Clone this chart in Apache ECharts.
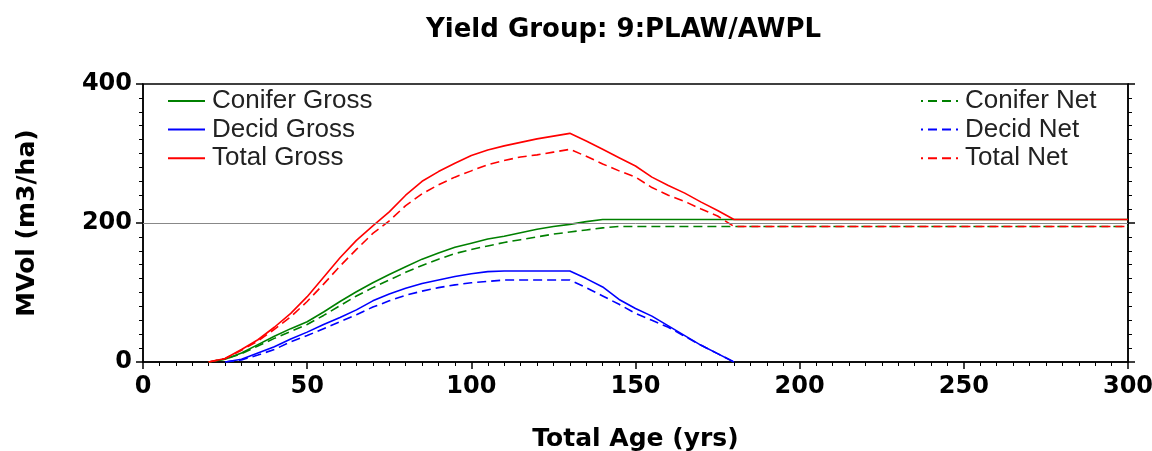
<!DOCTYPE html>
<html>
<head>
<meta charset="utf-8">
<script src="https://cdn.jsdelivr.net/npm/echarts@6/dist/echarts.min.js"></script>
<style>html,body{margin:0;padding:0;background:#fff}#c{width:1152px;height:451px}</style>
</head>
<body>
<div id="c"></div>
<script>
const ages = [20,25,30,35,40,45,50,55,60,65,70,75,80,85,90,95,100,105,110,115,120,125,130,135,140,145,150,155,160,165,170,175,180,300];
const coniferGross = [0,4,13,25,37,48,58,72,87,101,114,126,137,148,157,165,171,177,181,186,191,195,198,202,205,205,205,205,205,205,205,205,205,205];
const coniferNet   = [0,4,12,23,34,44,54,67,81,95,107,118,129,139,148,156,162,167,172,176,180,184,187,190,193,195,195,195,195,195,195,195,195,195];
const decidGross   = [null,0,4,13,22,33,43,54,64,75,88,98,106,113,118,123,127,130,131,131,131,131,131,120,108,90,77,66,52,38,24,12,0,null];
const decidNet     = [null,0,3,10,18,29,38,48,58,68,79,88,96,102,107,111,114,116,118,118,118,118,118,107,95,83,70,60,50,37,24,12,0,null];
const totalGross   = [0,5,18,32,50,70,94,122,150,175,196,216,240,260,274,286,297,305,311,316,321,325,329,318,306,294,282,266,254,243,230,218,205,205];
const totalNet     = [0,5,17,30,47,65,87,112,138,162,185,203,225,242,255,266,275,284,290,295,298,302,306,296,285,275,266,251,240,231,220,210,195,195];

const titleText = 'Yield Group: 9:PLAW/AWPL';
const xName = 'Total Age (yrs)';
const yName = 'MVol (m3/ha)';
const leftLegend = ['Conifer Gross','Decid Gross','Total Gross'];
const rightLegend = ['Conifer Net','Decid Net','Total Net'];

const pairs = vals => ages.map((a,i) => [a, vals[i]]);
const GREEN='#008000', BLUE='#0000ff', RED='#ff0000';
const DASH=[9,5];
function mk(name, vals, color, dashed, extra){
  return Object.assign({
    name, type:'line', data:pairs(vals), showSymbol:false, symbol:'none',
    connectNulls:false, animation:false,
    lineStyle:{color, width:1.6, type: dashed?DASH:'solid'},
    itemStyle:{color}
  }, extra||{});
}
const chart = echarts.init(document.getElementById('c'), null, {renderer:'canvas'});
const tickFont = {fontFamily:'DejaVu Sans', fontWeight:'bold', fontSize:24, color:'#000'};
const nameFont = {fontFamily:'DejaVu Sans', fontWeight:'bold', fontSize:25, color:'#000'};
const legendCommon = {orient:'vertical', top:88, padding:0, itemWidth:37, itemHeight:14, itemGap:2.6,
  itemStyle:{opacity:0},
  textStyle:{fontFamily:'Liberation Sans', fontSize:26, color:'#222', lineHeight:26, padding:[0,0,0,2]}};
chart.setOption({
  animation:false,
  title:{text:titleText, left:421, top:12, textStyle:{fontFamily:'DejaVu Sans', fontWeight:'bold', fontSize:26, color:'#000'}},
  legend:[
    Object.assign({left:167, data:leftLegend}, legendCommon),
    Object.assign({left:920, data:rightLegend}, legendCommon)
  ],
  grid:{left:143, right:24, top:84, bottom:89, containLabel:false, outerBoundsMode:'none',
    show:true, borderColor:'#000', borderWidth:1.5, backgroundColor:'#fff'},
  xAxis:{type:'value', min:0, max:300, interval:50, name:xName, nameLocation:'middle', nameGap:65, nameTextStyle:nameFont,
    axisLine:{show:true, onZero:false, lineStyle:{color:'#000', width:1.5}},
    axisTick:{show:true, inside:false, length:7, lineStyle:{color:'#000', width:1.5}},
    minorTick:{show:true, splitNumber:10, length:4, lineStyle:{color:'#000', width:1}},
    axisLabel:{margin:13, ...tickFont}, splitLine:{show:false}},
  yAxis:[
    {type:'value', min:0, max:400, interval:200, name:yName, nameLocation:'middle', nameGap:103, nameRotate:90, nameTextStyle:nameFont,
     axisLine:{show:true, lineStyle:{color:'#000', width:1.5}},
     axisTick:{show:true, inside:false, length:7, lineStyle:{color:'#000', width:1.5}},
     minorTick:{show:true, splitNumber:10, length:4, lineStyle:{color:'#000', width:1}},
     axisLabel:{margin:11, ...tickFont}, splitLine:{show:false}},
    {type:'value', min:0, max:400, interval:200, position:'right',
     axisLine:{show:true, lineStyle:{color:'#000', width:1.5}},
     axisTick:{show:true, inside:false, length:7, lineStyle:{color:'#000', width:1.5}},
     minorTick:{show:true, splitNumber:10, length:4, lineStyle:{color:'#000', width:1}},
     axisLabel:{show:false}, splitLine:{show:false}}
  ],
  series:[
    mk('Conifer Net', coniferNet, GREEN, true, {lineStyle:{color:GREEN, width:1.6, type:DASH, dashOffset:7},
      markLine:{silent:true, symbol:'none', label:{show:false}, lineStyle:{color:'#888', width:1, type:'solid'}, data:[{yAxis:200}], animation:false}}),
    mk('Decid Net', decidNet, BLUE, true),
    mk('Conifer Gross', coniferGross, GREEN, false),
    mk('Decid Gross', decidGross, BLUE, false),
    mk('Total Net', totalNet, RED, true),
    mk('Total Gross', totalGross, RED, false)
  ]
});
</script>
</body>
</html>
